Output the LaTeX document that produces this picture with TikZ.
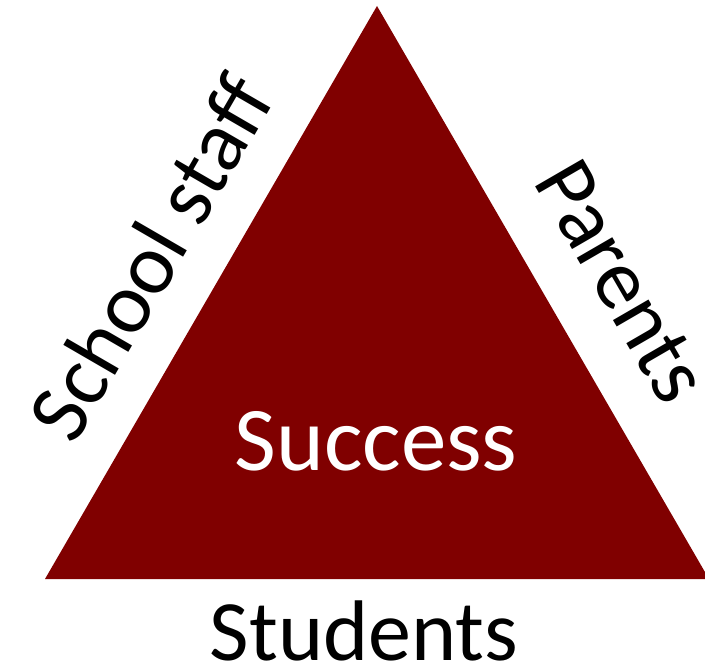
\documentclass[tikz,border=0pt]{standalone}
\usepackage{fontspec}
\setmainfont{Carlito}
\usepackage{tikz}
\definecolor{granate}{RGB}{128,0,0}
\tikzset{rotulo/.style={font=\fontsize{86}{100}\selectfont,inner sep=0pt}}

\begin{document}
\begin{tikzpicture}[x=1pt,y=-1pt]
   \useasboundingbox (0,0) rectangle (705,669);
   %vertices
   \coordinate (arriba) at (377,6);
   \coordinate (izq) at (45,579);
   \coordinate (der) at (709,579);
   %triangulo
   \begin{scope}
      \clip (0,0) rectangle (705,669);
      \fill[granate] (arriba) -- (izq) -- (der) -- cycle;
   \end{scope}
   %lados
   \path (izq) -- (arriba) node[midway,sloped,above=40pt,rotulo] (staff) {School staff};
   \path (arriba) -- (der) node[pos=.545,sloped,above=46pt,rotulo] (padres) {Parents};
   %centro y base
   \node[rotulo,text=white,font=\fontsize{91}{100}\selectfont] (exito) at (376,441) {Success};
   \node[rotulo] (alumnos) at (364,631) {Students};
\end{tikzpicture}
\end{document}
